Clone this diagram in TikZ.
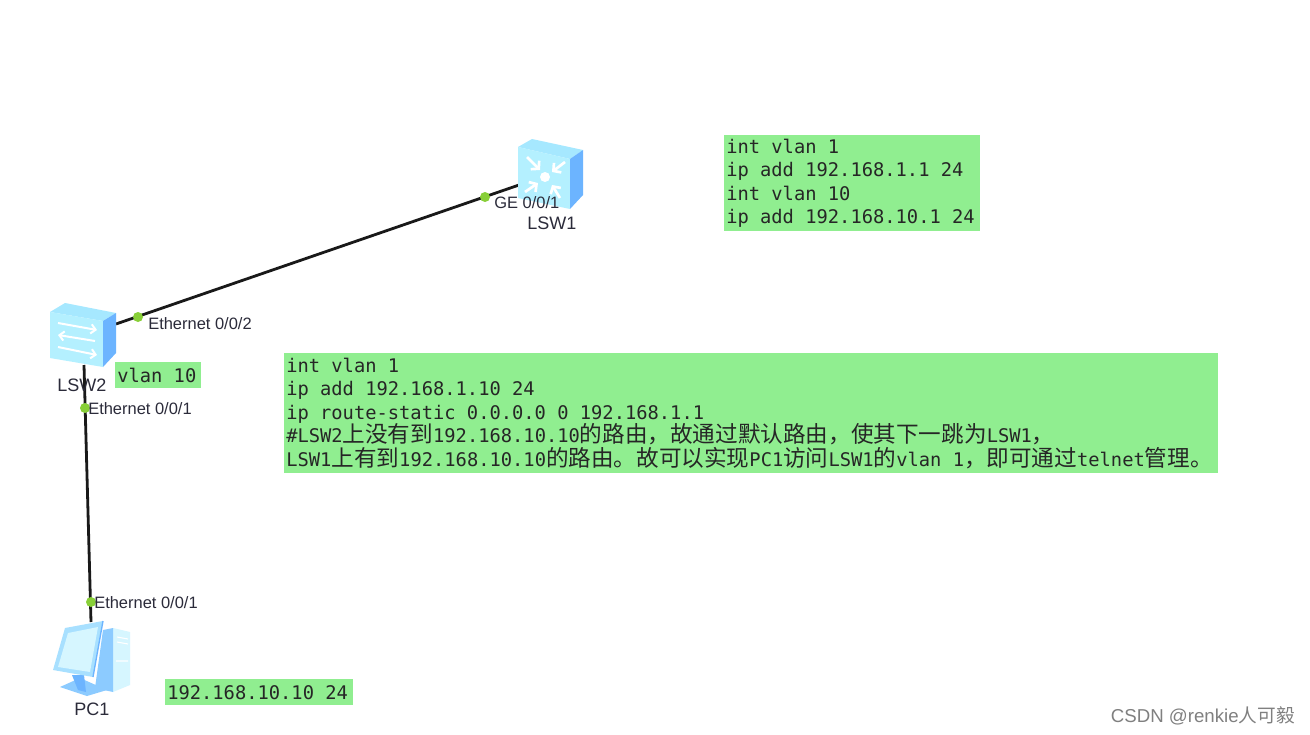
\documentclass[tikz,border=0pt]{standalone}
\usepackage{fontspec}
\usetikzlibrary{arrows.meta}
\setmainfont{Liberation Sans}
\newfontfamily\monofam{DejaVu Sans Mono}
\newfontfamily\cjkfam{Noto Sans CJK SC}
\newcommand{\zh}[1]{{\cjkfam\fontsize{16.95}{17.6}\selectfont #1}}
\definecolor{notegreen}{HTML}{90EE90}
\definecolor{labelink}{HTML}{2B2B3A}
\definecolor{portgreen}{HTML}{88CF38}
\definecolor{sidegblue}{HTML}{6CB4FF}
\definecolor{frontcyan}{HTML}{B4F0FF}
\definecolor{topcyan}{HTML}{A6E8FF}
\definecolor{pcblue}{HTML}{8CCBFF}
\definecolor{pcframe}{HTML}{A8E0FF}
\definecolor{pcpale}{HTML}{D6F6FF}
\tikzset{
  x=0.75pt,y=-0.75pt,
  link/.style={draw=black!90,line width=2.1pt},
  portdot/.style={circle,fill=portgreen,draw=none,minimum size=7.5pt,inner sep=0pt},
  portlabel/.style={anchor=west,inner sep=0pt,text=labelink,font=\fontsize{12.35}{14}\selectfont},
  devlabel/.style={anchor=west,inner sep=0pt,text=labelink,font=\fontsize{13.5}{15}\selectfont},
  notebox/.style={anchor=north west,fill=notegreen,draw=none,inner xsep=1.5pt,inner ysep=0pt,align=flush left,
    text=black!85,font=\monofam\fontsize{14.07}{17.6}\selectfont},
  device/.style={draw=none,inner sep=0pt,anchor=north west},
  whitearrow/.style={draw=white,line width=2pt,-{Straight Barb[length=4pt,width=9pt]}},
  thinarrow/.style={draw=white,line width=1.5pt,-{Straight Barb[length=3.5pt,width=7pt]}},
}
\begin{document}
\begin{tikzpicture}
\useasboundingbox (0,0) rectangle (1310,735);
\fill[white] (0,0) rectangle (1310,735);

% device placeholders
\node[device,minimum width=49.5pt,minimum height=52pt] (sw1) at (518,139) {};
\node[device,minimum width=49.5pt,minimum height=49pt] (sw2) at (50,303) {};
\node[device,minimum width=58pt,minimum height=57pt] (pc1) at (53,621) {};
\coordinate (sw1port) at (519,185);
\coordinate (sw2portA) at (116,324);
\coordinate (sw2portB) at (84,365);
\coordinate (pc1port) at (91,622);

% connectors
\draw[link] (sw1port) -- (sw2portA);
\draw[link] (sw2portB) -- (pc1port);

% LSW1 icon
\fill[topcyan] (518,147) -- (532,139) -- (583,150) -- (570,159) -- cycle;
\fill[frontcyan] (518,147) -- (570,159) -- (570,209) -- (518,198) -- cycle;
\fill[sidegblue] (570,159) -- (583,150) -- (583,195) -- (570,209) -- cycle;
\draw[whitearrow] (527,157) -- (540,170);
\draw[whitearrow] (565,162) -- (552,172);
\draw[whitearrow] (525,192) -- (538,183);
\draw[whitearrow] (560,198) -- (552,185);
\fill[white] (545,177) circle (5);

% LSW2 icon
\fill[topcyan] (50,312) -- (65,303) -- (116,313) -- (103,321) -- cycle;
\fill[frontcyan] (50,312) -- (103,321) -- (103,367) -- (50,358) -- cycle;
\fill[sidegblue] (103,321) -- (116,313) -- (116,353) -- (103,367) -- cycle;
\draw[thinarrow] (58,323) -- (97,330);
\draw[thinarrow] (95,341) -- (58,335);
\draw[thinarrow] (58,347) -- (97,355);

% PC1 icon
\fill[pcpale] (113,628) -- (130,632) -- (130,685) -- (113,692) -- cycle;
\fill[pcblue] (103,630) -- (113,628) -- (113,692) -- (95,688) -- cycle;
\fill[pcblue] (60,687) -- (80,678) -- (107,690) -- (87,696) -- cycle;
\fill[sidegblue] (72,675) -- (84,675) -- (86,692) -- (78,690) -- cycle;
\fill[pcframe] (65,628) -- (103,621) -- (93,677) -- (53,670) -- cycle;
\fill[pcpale] (68,633) -- (98,627) -- (90,672) -- (58,667) -- cycle;
\draw[sidegblue,line width=1pt] (103,621) -- (93,677);
\draw[white,line width=0.8pt] (117,637) -- (128,639) (117,642) -- (128,644) (116,661) -- (128,661);

% port dots
\node[portdot] (dotA) at (485,197) {};
\node[portdot] (dotB) at (138,317) {};
\node[portdot] (dotC) at (85,408) {};
\node[portdot] (dotD) at (91,602) {};

% labels
\node[portlabel] (lblA) at (494,203) {GE 0/0/1};
\node[portlabel] (lblB) at (148,323.5) {Ethernet 0/0/2};
\node[portlabel] (lblC) at (88,408.5) {Ethernet 0/0/1};
\node[portlabel] (lblD) at (94,602.5) {Ethernet 0/0/1};
\node[devlabel] (nameA) at (527,223) {LSW1};
\node[devlabel] (nameB) at (57,385) {LSW2};
\node[devlabel] (nameC) at (74,709) {PC1};

% notes
\node[notebox,text width=189pt,minimum height=72pt] (noteA) at (724,135)
  {int vlan 1\\ip add 192.168.1.1 24\\int vlan 10\\ip add 192.168.10.1 24};
\node[notebox,text width=61.5pt,minimum height=19.5pt] (noteB) at (115,362) {vlan 10};
\node[notebox,text width=138pt,minimum height=19.5pt] (noteC) at (165,679) {192.168.10.10 24};
\node[notebox,text width=697.5pt,minimum height=90pt] (noteD) at (284,353)
  {int vlan 1\\ip add 192.168.1.10 24\\ip route-static 0.0.0.0 0 192.168.1.1\\
   \#LSW2\zh{上没有到}192.168.10.10\zh{的路由，故通过默认路由，使其下一跳为}LSW1\zh{，}\\
   LSW1\zh{上有到}192.168.10.10\zh{的路由。故可以实现}PC1\zh{访问}LSW1\zh{的}vlan 1\zh{，即可通过}telnet\zh{管理。}};

% watermark
\node[anchor=east,inner sep=0pt,text=black!50,font=\fontsize{14}{15}\selectfont] (mark) at (1295,716)
  {CSDN @renkie{\cjkfam 人可毅}};
\end{tikzpicture}
\end{document}
